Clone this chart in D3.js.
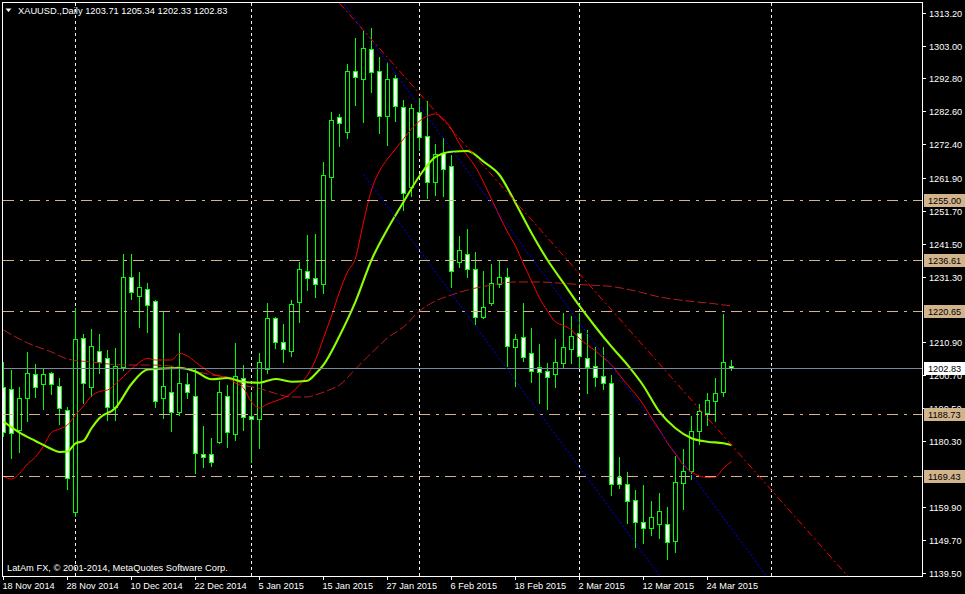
<!DOCTYPE html>
<html><head><meta charset="utf-8">
<script src="https://cdn.jsdelivr.net/npm/d3@7"></script>
<style>
html,body{margin:0;padding:0;background:#000;}
svg{display:block;}
text{font-family:"Liberation Sans",Arial,sans-serif;}
</style></head><body>
<svg id="c" width="965" height="594"></svg>
<script>
// ---------- data ----------
const symbolTitle = "XAUUSD.,Daily";
const lastQuote = [1203.71, 1205.34, 1202.33, 1202.83]; // O H L C
const copyrightText = "LatAm FX, \u00A9 2001-2014, MetaQuotes Software Corp.";

const dateLabels = ["18 Nov 2014","28 Nov 2014","10 Dec 2014","22 Dec 2014","5 Jan 2015","15 Jan 2015",
  "27 Jan 2015","6 Feb 2015","18 Feb 2015","2 Mar 2015","12 Mar 2015","24 Mar 2015"];
const dateLabelBars = [0,8,16,24,32,40,48,56,64,72,80,88];
const gridBars = [9,31,52,72,96];

// visible price scale labels (the ones hidden under level boxes are not shown in the reference)
const priceTicks = ["1313.20","1303.00","1292.80","1282.60","1272.40","1261.90","1251.70","1241.50","1231.30",
  "1210.90","1200.70","1190.50","1180.30","1159.90","1149.70","1139.50"];

const opens = [1197.17,1196.36,1183.74,1193.57,1201.02,1197.92,1201.33,1197.39,1189.85,1158.40,
 1212.19,1197.17,1208.25,1205.98,1190.78,1203.19,1231.11,1225.40,1227.39,1223.85,
 1193.76,1195.44,1189.17,1197.92,1194.29,1176.20,1176.20,1180.11,1194.29,1182.41,
 1199.78,1188.17,1187.06,1202.57,1218.60,1210.95,1208.34,1223.54,1233.16,1230.80,
 1228.94,1262.13,1280.74,1276.28,1295.11,1292.53,1301.84,1295.11,1281.24,1292.84,
 1283.85,1259.03,1282.29,1274.85,1260.58,1269.58,1265.64,1235.76,1238.24,1233.59,
 1218.70,1223.23,1228.94,1231.11,1209.39,1212.68,1207.53,1203.19,1201.95,1200.96,
 1204.43,1208.77,1213.74,1205.98,1203.50,1200.40,1198.23,1169.25,1166.89,1161.87,
 1155.11,1153.25,1154.49,1154.49,1149.40,1167.39,1170.93,1183.52,1189.11,1192.83,
 1195.62,1203.71];
const highs = [1204.93,1202.35,1197.17,1208.03,1204.21,1202.88,1201.64,1199.96,1190.88,1221.49,
 1213.52,1214.98,1213.52,1208.56,1209.08,1238.34,1238.34,1232.66,1229.34,1224.07,
 1220.66,1203.59,1213.74,1201.33,1202.97,1184.98,1181.35,1198.94,1197.70,1210.64,
 1203.75,1195.62,1207.53,1223.04,1218.90,1216.53,1224.07,1235.76,1244.23,1244.54,
 1266.78,1282.29,1281.67,1297.28,1305.25,1307.82,1308.35,1299.36,1297.80,1293.87,
 1286.11,1284.87,1286.73,1285.80,1272.46,1274.23,1269.05,1243.92,1246.00,1238.86,
 1233.16,1235.14,1236.48,1233.91,1213.52,1223.04,1215.29,1210.42,1204.43,1211.97,
 1219.94,1219.20,1220.12,1214.61,1209.49,1209.39,1200.80,1175.36,1170.62,1165.13,
 1166.68,1161.71,1164.20,1159.85,1175.58,1177.84,1188.08,1191.81,1195.31,1199.78,
 1219.72,1205.34];
const lows = [1181.88,1174.96,1176.82,1186.63,1194.07,1190.25,1194.81,1185.51,1165.34,1157.00,
 1192.02,1194.29,1201.33,1186.84,1186.93,1202.35,1224.38,1215.78,1214.23,1190.88,
 1187.37,1183.43,1188.39,1193.57,1170.49,1172.36,1172.57,1179.80,1178.56,1180.64,
 1183.74,1173.81,1178.06,1201.51,1209.08,1204.74,1206.79,1217.34,1227.17,1225.09,
 1226.15,1255.09,1271.84,1274.23,1284.56,1279.38,1288.68,1275.97,1272.15,1279.69,
 1251.99,1256.33,1270.60,1255.62,1256.64,1256.48,1228.19,1234.40,1231.11,1216.62,
 1218.39,1222.52,1228.01,1203.59,1197.49,1205.24,1198.48,1192.12,1190.35,1197.17,
 1203.38,1204.43,1203.38,1195.22,1197.39,1196.36,1163.67,1165.65,1154.99,1147.35,
 1148.59,1151.17,1150.26,1143.73,1145.74,1159.33,1168.63,1179.33,1185.38,1186.63,
 1194.39,1202.33];
const closes = [1183.21,1182.72,1193.57,1201.33,1196.99,1201.02,1197.92,1190.47,1168.94,1211.88,
 1198.23,1209.70,1204.93,1190.78,1203.50,1231.11,1226.45,1228.01,1222.42,1192.83,
 1197.39,1189.17,1198.23,1195.62,1176.70,1175.46,1173.91,1195.44,1183.21,1200.49,
 1187.68,1187.06,1204.93,1218.39,1210.95,1208.77,1222.73,1233.59,1230.80,1228.94,
 1262.75,1279.91,1278.88,1295.11,1293.15,1302.15,1294.70,1281.24,1292.53,1284.34,
 1257.17,1283.53,1274.54,1260.58,1269.26,1264.61,1232.97,1239.58,1233.59,1218.70,
 1221.80,1229.25,1231.11,1209.80,1211.88,1206.29,1201.89,1201.57,1200.28,1204.74,
 1209.39,1212.99,1206.70,1203.38,1200.09,1198.23,1166.89,1166.89,1161.62,1155.11,
 1153.43,1156.66,1158.62,1149.09,1167.51,1170.93,1183.43,1189.64,1193.04,1195.13,
 1204.74,1202.83];

// fast moving average (red), one value per bar
const maFast = [1169.31,1168.54,1170.25,1173.19,1175.36,1178.78,1182.96,1184.05,1185.29,1188.39,
 1191.18,1194.29,1195.68,1196.15,1198.01,1200.34,1202.66,1204.68,1205.98,1205.45,
 1205.45,1205.45,1207.47,1206.70,1204.83,1202.97,1201.27,1200.49,1199.87,1198.32,
 1196.77,1192.43,1190.56,1191.81,1192.74,1193.67,1195.22,1197.70,1200.80,1205.45,
 1212.28,1219.10,1226.55,1232.75,1237.10,1248.26,1258.19,1264.08,1267.81,1270.91,
 1274.01,1277.11,1279.59,1281.15,1281.77,1280.22,1277.11,1272.46,1268.74,1265.32,
 1260.67,1255.40,1250.12,1245.16,1240.82,1235.23,1229.96,1224.69,1220.65,1217.24,
 1216.16,1214.76,1212.12,1210.11,1208.25,1206.07,1203.90,1200.80,1197.70,1194.91,
 1191.49,1187.46,1183.74,1179.71,1176.30,1172.88,1170.71,1169.47,1169.00,1169.16,
 1171.95,1173.91];

// medium moving average (lime), sampled bars
const maMidBars = [0,2,4,6,7,8,9,10,11,12,14,16,18,20,22,24,26,28,30,32,34,36,38,39,40,42,44,46,48,50,
 52,54,56,58,60,62,64,66,68,70,72,74,76,78,80,82,84,86,88,90,91];
const maMid = [1186.31,1182.90,1180.33,1177.85,1176.92,1177.07,1179.61,1180.33,1184.27,1187.46,1190.56,
 1198.01,1202.51,1202.82,1202.97,1201.89,1199.47,1199.87,1198.63,1198.41,1199.56,1198.72,1199.03,
 1201.11,1203.91,1212.90,1223.54,1236.48,1246.09,1254.47,1262.53,1268.43,1270.07,1270.29,1266.97,
 1262.84,1254.16,1244.85,1236.48,1229.34,1222.21,1215.69,1209.58,1203.91,1197.39,1189.32,1184.27,
 1181.17,1180.11,1179.62,1179.09];

// slow moving average (dark red), sampled bars
const maSlowBars = [0,3,6,8,11,15,18,22,24,26,28,30,32,34,36,38,39,41,42,44,46,48,50,52,54,56,58,61,
 64,67,70,73,76,79,82,85,88,91];
const maSlow = [1214.76,1210.73,1207.94,1205.77,1204.83,1203.91,1203.91,1203.28,1202.04,1200.80,1200.18,
 1197.70,1196.61,1195.06,1193.98,1193.98,1194.60,1196.46,1197.70,1202.66,1207.63,1212.28,1215.69,
 1220.66,1223.76,1225.62,1227.17,1228.72,1229.65,1229.65,1229.19,1228.72,1228.26,1226.86,1225.00,
 1223.91,1223.14,1222.21];

// horizontal levels
const levels = [1255.00, 1236.61, 1220.65, 1188.73, 1169.43];
const bidPrice = 1202.83;

// trend lines: [bar, price] anchors
const channelUpper = [[42, 1317.87], [150, 954.73]];
const channelLower = [[45, 1263.00], [150, 909.92]];
const trendRed = [[42, 1316.09], [150, 1014.03]];

// ---------- drawing ----------
const W = 965, H = 594;
const L = 3, R = 922, T = 3, B = 576;
const svg = d3.select("#c");
svg.append("rect").attr("width", W).attr("height", H).attr("fill", "#000");

const x = d3.scaleLinear().domain([0, 91]).range([3.5, 731.5]);
const y = d3.scaleLinear().domain([1316.2, 1138.5]).range([3, 575.8]);

svg.append("defs").append("clipPath").attr("id", "plot")
  .append("rect").attr("x", L).attr("y", T).attr("width", R - L).attr("height", B - T);

const g = svg.append("g").attr("clip-path", "url(#plot)");

// vertical grid
g.selectAll("line.grid").data(gridBars).enter().append("line")
  .attr("x1", d => x(d)).attr("x2", d => x(d))
  .attr("y1", T).attr("y2", B)
  .attr("stroke", "#f0f0f0").attr("stroke-width", 1).attr("stroke-dasharray", "3,3");

// candles
const bars = d3.range(opens.length).map(i => ({i, o: opens[i], h: highs[i], l: lows[i], c: closes[i]}));
const cg = g.append("g");
cg.selectAll("line.wick").data(bars).enter().append("line")
  .attr("x1", d => x(d.i)).attr("x2", d => x(d.i))
  .attr("y1", d => Math.round(y(d.h))).attr("y2", d => Math.round(y(d.l)) + 1)
  .attr("stroke", "#00ff00").attr("stroke-width", 1);
cg.selectAll("rect.body").data(bars).enter().append("rect")
  .attr("x", d => x(d.i) - 2)
  .attr("y", d => Math.round(y(Math.max(d.o, d.c))) + 0.5)
  .attr("width", 4)
  .attr("height", d => Math.max(1, Math.round(y(Math.min(d.o, d.c))) - Math.round(y(Math.max(d.o, d.c)))))
  .attr("fill", d => d.c >= d.o ? "#000" : "#fff")
  .attr("stroke", "#00ff00").attr("stroke-width", 1);

// moving averages
g.append("path").datum(maSlowBars.map((b, k) => [b, maSlow[k]]))
  .attr("d", d3.line().x(d => x(d[0])).y(d => y(d[1])).curve(d3.curveMonotoneX)).attr("fill", "none")
  .attr("stroke", "#b81c1c").attr("stroke-width", 1).attr("stroke-dasharray", "9,3");
g.append("path").datum(maFast.map((v, k) => [k, v]))
  .attr("d", d3.line().x(d => x(d[0])).y(d => y(d[1])).curve(d3.curveMonotoneX)).attr("fill", "none")
  .attr("stroke", "#ff0000").attr("stroke-width", 1);
g.append("path").datum(maMidBars.map((b, k) => [b, maMid[k]]))
  .attr("d", d3.line().x(d => x(d[0])).y(d => y(d[1])).curve(d3.curveMonotoneX)).attr("fill", "none")
  .attr("stroke", "#8cff00").attr("stroke-width", 2.1);

// horizontal levels
g.selectAll("line.lvl").data(levels).enter().append("line")
  .attr("x1", L).attr("x2", R)
  .attr("y1", d => Math.round(y(d)) + 0.5).attr("y2", d => Math.round(y(d)) + 0.5)
  .attr("stroke", "#d2b48c").attr("stroke-width", 1).attr("stroke-dasharray", "11,6,3,6");
// bid line
g.append("line").attr("x1", L).attr("x2", R)
  .attr("y1", Math.round(y(bidPrice)) + 0.5).attr("y2", Math.round(y(bidPrice)) + 0.5)
  .attr("stroke", "#778899").attr("stroke-width", 1);

// trend lines
function seg(a, color, dash) {
  g.append("line")
    .attr("x1", x(a[0][0])).attr("y1", y(a[0][1]))
    .attr("x2", x(a[1][0])).attr("y2", y(a[1][1]))
    .attr("stroke", color).attr("stroke-width", 1).attr("stroke-dasharray", dash);
}
seg(channelUpper, "#0000ff", "2,2");
seg(channelLower, "#0000ff", "2,2");
seg(trendRed, "#ff0000", "7,3,2,3");

// frame
svg.append("rect").attr("x", 2.5).attr("y", 2.5).attr("width", R - 2).attr("height", B - 2)
  .attr("fill", "none").attr("stroke", "#fff").attr("stroke-width", 1);

// right axis ticks and labels
const ax = svg.append("g");
priceTicks.forEach(t => {
  const yy = Math.round(y(+t)) + 0.5;
  ax.append("line").attr("x1", R + 1).attr("x2", R + 4).attr("y1", yy).attr("y2", yy)
    .attr("stroke", "#fff");
  ax.append("text").attr("x", 929).attr("y", yy + 3.4).attr("fill", "#fff")
    .attr("font-size", "9.2px").text(t);
});
// level boxes
levels.forEach(v => {
  const yy = Math.round(y(v)) + 0.5;
  ax.append("line").attr("x1", 915).attr("x2", 920).attr("y1", yy).attr("y2", yy).attr("stroke", "#d2b48c");
  ax.append("rect").attr("x", 924).attr("y", yy - 6.5).attr("width", 41).attr("height", 13).attr("fill", "#d2b48c");
  ax.append("text").attr("x", 928).attr("y", yy + 3.4).attr("fill", "#000")
    .attr("font-size", "9.2px").text(v.toFixed(2));
});
{
  const yy = Math.round(y(bidPrice)) + 0.5;
  ax.append("rect").attr("x", 924).attr("y", yy - 6.5).attr("width", 41).attr("height", 13).attr("fill", "#fff");
  ax.append("text").attr("x", 928).attr("y", yy + 3.4).attr("fill", "#000")
    .attr("font-size", "9.2px").text(bidPrice.toFixed(2));
}

// bottom axis
dateLabelBars.forEach((b, k) => {
  const xx = x(b);
  ax.append("line").attr("x1", xx).attr("x2", xx).attr("y1", B).attr("y2", B + 4).attr("stroke", "#fff");
  ax.append("text").attr("x", xx - 1).attr("y", 589).attr("fill", "#fff")
    .attr("font-size", "9.2px").text(dateLabels[k]);
});

// title
svg.append("path").attr("d", "M5.5,8.5 L11.5,8.5 L8.5,12 Z").attr("fill", "#fff");
svg.append("text").attr("x", 18).attr("y", 13.5).attr("fill", "#fff").attr("font-size", "9.3px")
  .text(symbolTitle + "  " + lastQuote.map(v => v.toFixed(2)).join(" "));
svg.append("text").attr("x", 7).attr("y", 571).attr("fill", "#fff").attr("font-size", "9.3px")
  .text(copyrightText);
</script>
</body></html>
